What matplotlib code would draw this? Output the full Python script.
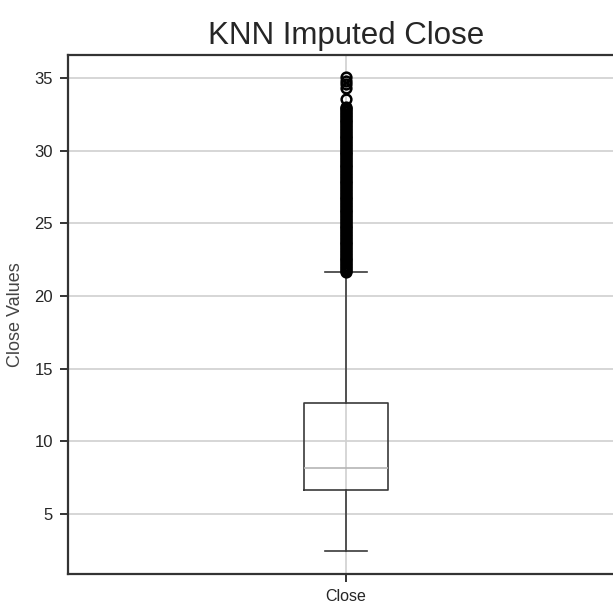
import matplotlib
matplotlib.use("Agg")
import matplotlib.pyplot as plt

# box statistics for the imputed Close column
col_name = "Close"
whisker_low = 2.45
q1 = 6.62
median = 8.15
q3 = 12.6
whisker_high = 21.62
# outliers above the upper whisker (dense band, then a few isolated ones)
fliers = [21.65, 21.75, 21.85, 21.95, 22.05, 22.15, 22.25, 22.35, 22.45, 22.55,
          22.65, 22.75, 22.85, 22.95, 23.05, 23.15, 23.25, 23.35, 23.45, 23.55,
          23.65, 23.75, 23.85, 23.95, 24.05, 24.15, 24.25, 24.35, 24.45, 24.55,
          24.65, 24.75, 24.85, 24.95, 25.05, 25.15, 25.25, 25.35, 25.45, 25.55,
          25.65, 25.75, 25.85, 25.95, 26.05, 26.15, 26.25, 26.35, 26.45, 26.55,
          26.65, 26.75, 26.85, 26.95, 27.05, 27.15, 27.25, 27.35, 27.45, 27.55,
          27.65, 27.75, 27.85, 27.95, 28.05, 28.15, 28.25, 28.35, 28.45, 28.55,
          28.65, 28.75, 28.85, 28.95, 29.05, 29.15, 29.25, 29.35, 29.45, 29.55,
          29.65, 29.75, 29.85, 29.95, 30.05, 30.15, 30.25, 30.35, 30.45, 30.55,
          30.65, 30.75, 30.85, 30.95, 31.05, 31.15, 31.25, 31.35, 31.45, 31.55,
          31.65, 31.75, 31.85, 31.95, 32.05, 32.15, 32.25, 32.35, 32.45, 32.55,
          32.65, 32.75, 32.85, 32.95, 33.05,
          33.56, 34.3, 34.6, 34.84, 35.05]
yticks = [5, 10, 15, 20, 25, 30, 35]

plt.rcParams['font.family'] = ['Liberation Sans', 'DejaVu Sans']

fig = plt.figure(figsize=(6.13, 6.11), dpi=100)
ax = fig.add_axes([0.111, 0.0606, 0.907, 0.8494])

stats = [{
    "label": col_name,
    "whislo": whisker_low,
    "q1": q1,
    "med": median,
    "q3": q3,
    "whishi": whisker_high,
    "fliers": fliers,
}]

ax.bxp(stats, positions=[1], widths=0.15,
       boxprops=dict(color="#3a3a3a", linewidth=1.2),
       whiskerprops=dict(color="#3a3a3a", linewidth=1.2),
       capprops=dict(color="#3a3a3a", linewidth=1.2),
       medianprops=dict(color="#b5b5b5", linewidth=1.2),
       flierprops=dict(marker="o", markerfacecolor="none",
                       markeredgecolor="black", markersize=7,
                       markeredgewidth=1.8))

ax.set_xlim(0.5, 1.5)
ax.set_ylim(0.85, 36.6)
ax.set_yticks(yticks)

ax.grid(True, color="#d0d0d0", linewidth=1.2)
ax.set_axisbelow(True)
for side in ["left", "bottom", "top", "right"]:
    ax.spines[side].set_color("#333333")
    ax.spines[side].set_linewidth(1.6)

ax.tick_params(axis="both", direction="out", length=6, width=1.4, pad=5,
               color="#333333", labelcolor="#262626")
ax.tick_params(axis="y", labelsize=12)
ax.tick_params(axis="x", labelsize=11.5)
ax.set_ylabel("Close Values", fontsize=13, color="#444444", labelpad=7)
ax.set_title("KNN Imputed Close", fontsize=22.5, color="#262626", pad=8)

plt.savefig("out.png", dpi=100)
